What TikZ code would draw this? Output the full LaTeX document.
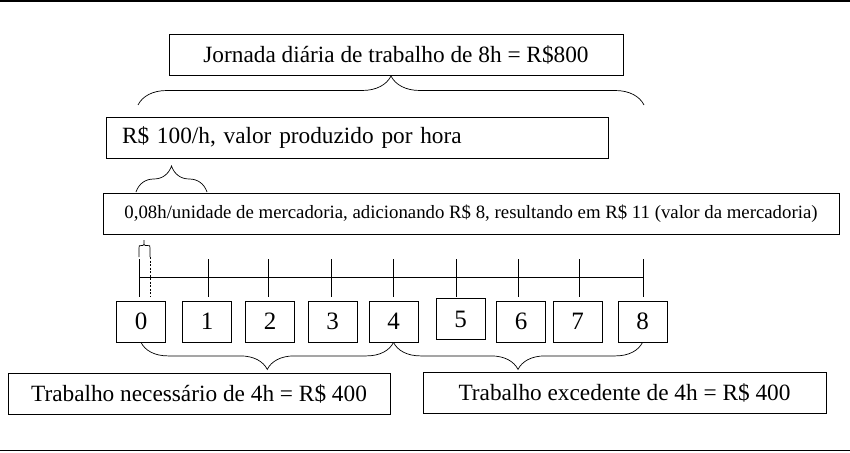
\documentclass[tikz,border=0pt]{standalone}
\usepackage{fontspec}
\setmainfont{Liberation Serif}
\usetikzlibrary{calc,decorations.pathreplacing}

\begin{document}
\begin{tikzpicture}[x=1pt,y=-1pt,
  box/.style={draw,rectangle,inner sep=0pt,minimum height=41pt,line width=0.8pt,
    font=\fontsize{23.3}{28}\selectfont},
  num/.style={draw,rectangle,inner sep=0pt,minimum width=49pt,minimum height=41pt,
    line width=0.8pt,font=\fontsize{25}{28}\selectfont},
  curly/.style={decorate,decoration={brace,amplitude=#1},line width=0.7pt}]
  \useasboundingbox (0,0) rectangle (850,452);
  \draw[line width=1.6pt] (0,1) -- (850,1);
  \draw[line width=1.4pt] (0,450.5) -- (850,450.5);

  \draw (396,54.5) node[box,minimum width=454pt] (jornada) {Jornada diária de trabalho de 8h = R\$800};
  \draw (357,137.5) node[box,text width=470pt,inner xsep=16pt,align=left] (valor) {R\$ 100/h, valor produzido por hora};
  \draw (471,213.5) node[box,minimum width=736pt,font=\fontsize{18.8}{22}\selectfont] (unidade) {0,08h/unidade de mercadoria, adicionando R\$ 8, resultando em R\$ 11 (valor da mercadoria)};
  \draw (199,393.5) node[box,minimum width=382pt] (necessario) {Trabalho necessário de 4h = R\$ 400};
  \draw (624.5,392.5) node[box,minimum width=403pt] (excedente) {Trabalho excedente de 4h = R\$ 400};

  \foreach \i/\x/\y in {0/141/321.5,1/207/321.5,2/270/321.5,3/332.5/321.5,4/393.5/321.5,
                        5/460.5/319,6/521/321.5,7/577.5/321.5,8/642.5/321.5}
    \draw (\x,\y) node[num] (n\i) {\i};

  \foreach \i/\x in {0/139,1/208,2/268,3/331,4/393,5/456,6/518,7/579,8/643}
    \coordinate (t\i) at (\x,277);
  \draw[line width=0.8pt] (t0) -- (t8);
  \foreach \i in {0,...,8}
    \draw[line width=0.8pt] ($(t\i)+(0,-18)$) -- ($(t\i)+(0,20)$);
  \draw[line width=0.7pt,dash pattern=on 2pt off 1.5pt] ($(t0)+(11,-20)$) -- ($(t0)+(11,20)$);

  \draw[line width=0.7pt] (139,257) -- (139,248) .. controls (139,245.5) .. (141.5,245.5)
    -- (142.5,245.5) .. controls (144,245.5) .. (144,240) .. controls (144,245.5) .. (145.5,245.5)
    -- (147.5,245.5) .. controls (150,245.5) .. (150,248) -- (150,257);

  \draw[curly=29pt] (138,105) -- (644,105);
  \draw[curly=26pt] (136,192) -- (207,192);
  \draw[curly=27pt] (n4.south) -- (n0.south);
  \draw[curly=27pt] (n8.south) -- (n4.south);
\end{tikzpicture}
\end{document}
